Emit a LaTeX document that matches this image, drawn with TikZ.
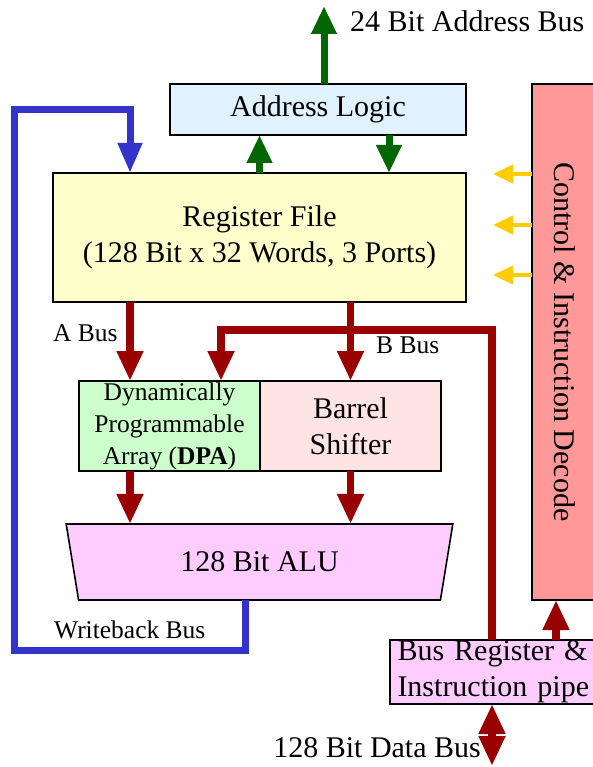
\documentclass[tikz,border=0pt]{standalone}
\usepackage{fontspec}
\setmainfont{Liberation Serif}
\usetikzlibrary{arrows.meta,positioning,shapes.geometric}

\definecolor{addrfill}{HTML}{E0F2FF}
\definecolor{regffill}{HTML}{FFFFCC}
\definecolor{ctrlfill}{HTML}{FF9999}
\definecolor{dpafill}{HTML}{CCFFCC}
\definecolor{shiftfill}{HTML}{FFE4E4}
\definecolor{alufill}{HTML}{FFCCFF}
\definecolor{bregfill}{HTML}{FFCCFF}
\definecolor{busred}{HTML}{990000}
\definecolor{adrgreen}{HTML}{006600}
\definecolor{wbblue}{HTML}{3333CC}
\definecolor{ctlyellow}{HTML}{FFCC00}

\newcommand{\bigtxt}{\fontsize{30}{36}\selectfont}
\newcommand{\smalltxt}{\fontsize{25.5}{32}\selectfont}

\begin{document}
\begin{tikzpicture}[x=1pt, y=-1pt,
  box/.style={draw, line width=1.6pt, inner sep=0pt, outer sep=0pt,
              align=center, font=\bigtxt},
  rbus/.style={draw=busred, line width=7.5pt, -{Triangle[length=30pt,width=25pt]}},
  gbus/.style={draw=adrgreen, line width=7pt, -{Triangle[length=28pt,width=24pt]}},
  wbus/.style={draw=wbblue, line width=7pt, -{Triangle[length=30pt,width=23pt]}},
  ctl/.style={draw=ctlyellow, line width=4pt, -{Triangle[length=20pt,width=18pt]}},
  lbl/.style={inner sep=0pt, font=\bigtxt},
  slbl/.style={inner sep=0pt, font=\smalltxt}
]
\useasboundingbox (0,0) rectangle (592,767);

\node[box, fill=addrfill, minimum width=296pt, minimum height=51pt] (addr) at (318,109.5) {Address Logic};
\node[box, fill=regffill, minimum width=413pt, minimum height=129pt] (regf) at (259.5,237.5) {Register File\\(128 Bit x 32 Words, 3 Ports)};
\node[box, fill=ctrlfill, minimum width=66pt, minimum height=516pt] (ctrl) at (565,342) {\rotatebox{-90}{Control \& Instruction Decode}};
\node[box, fill=dpafill, font=\smalltxt, minimum width=181pt, minimum height=90pt] (dpa) at (169.5,426) {Dynamically\\Programmable\\Array (\textbf{DPA})};
\node[box, fill=shiftfill, minimum width=181pt, minimum height=90pt, right=0pt of dpa] (shift) {Barrel\\Shifter};
\node[box, trapezium, trapezium stretches=true, trapezium angle=75, shape border rotate=180,
      fill=alufill, minimum width=387pt, minimum height=76pt] (alu) at (259.5,562) {128 Bit ALU};
\node[box, fill=bregfill, anchor=north west, minimum width=215pt, minimum height=64pt,
      align=left, text width=200pt, inner xsep=7pt] (breg) at (390,640) {Bus Register \&\\Instruction pipe};

\node[lbl, anchor=base west] (abuslbl) at (350,32) {24 Bit Address Bus};
\node[slbl, anchor=base west] (alab) at (53,341) {A Bus};
\node[slbl, anchor=base west] (blab) at (376,353) {B Bus};
\node[slbl, anchor=base west] (wlab) at (54,638) {Writeback Bus};
\node[lbl, anchor=base east] (dlab) at (481,757) {128 Bit Data Bus};

\coordinate (xa) at (130,0);
\coordinate (xw) at (245,0);
\coordinate (xd) at (221,0);
\coordinate (xg) at (389,0);
\coordinate (xc) at (556,0);
\coordinate (abus) at (324,6);
\coordinate (bjoin) at (492,330);
\coordinate (wbl) at (14,650);
\coordinate (wbt) at (14,110);
\coordinate (dbus) at (492,766);

\draw[gbus] (addr.north -| abus) -- (abus);
\draw[gbus] (regf.north) -- (regf.north |- addr.south);
\draw[gbus] (addr.south -| xg) -- (regf.north -| xg);
\foreach \y in {174,225,275}
  \draw[ctl] (ctrl.west |- 0,\y) -- (493,\y);

\draw[wbus] (alu.south -| xw) |- (wbl) -- (wbt) -| (regf.north -| xa);

\draw[rbus] (regf.south -| xa) -- (dpa.north -| xa);
\draw[rbus] (regf.south -| shift.north) -- (shift.north);
\draw[rbus] (breg.north -| bjoin) -- (bjoin) -| (dpa.north -| xd);
\draw[rbus] (dpa.south -| xa) -- (alu.north -| xa);
\draw[rbus] (shift.south) -- (shift.south |- alu.north);
\draw[rbus] (breg.north -| xc) -- (ctrl.south -| xc);
\draw[rbus, {Triangle[length=30pt,width=25pt]}-{Triangle[length=30pt,width=25pt]}] (breg.south -| dbus) -- (dbus);
\end{tikzpicture}
\end{document}
